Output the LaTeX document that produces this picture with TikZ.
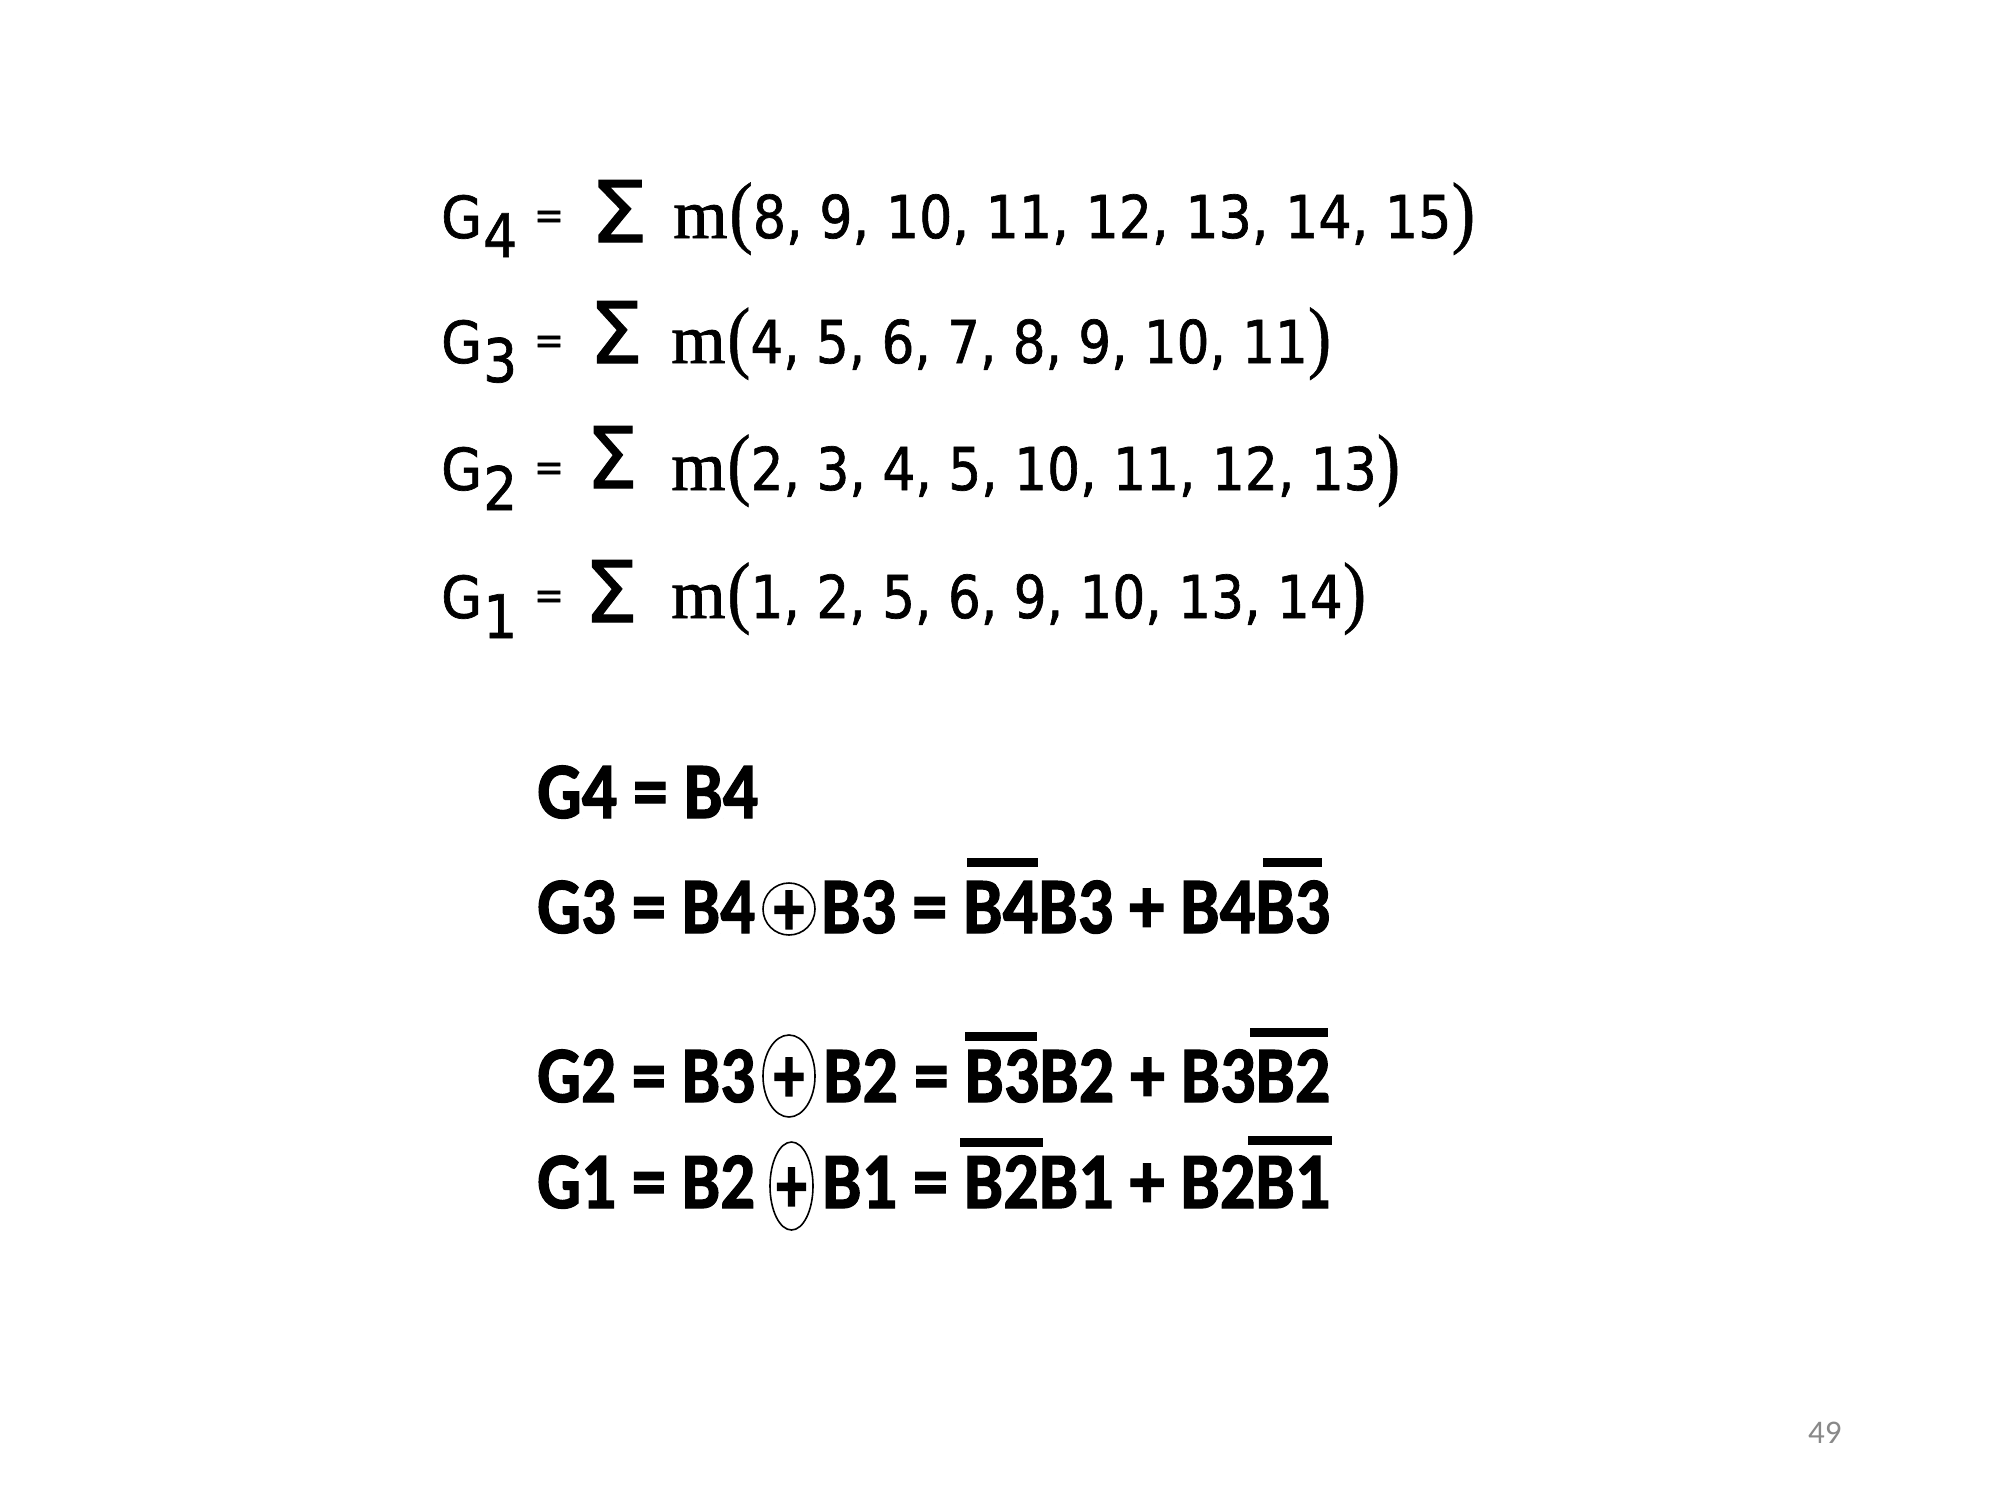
\documentclass[tikz,border=0pt]{standalone}
\usepackage{fontspec}
\usepackage{graphicx}
\usetikzlibrary{shapes.geometric}
\newfontfamily\tahf[FakeBold=1.2]{DejaVu Sans}
\newfontfamily\tmsf[FakeBold=1.2]{Liberation Serif}
\newfontfamily\parf[FakeBold=0.6]{Liberation Serif}
\newfontfamily\calf{Carlito}
\newfontfamily\calbf[FakeBold=1.6]{Carlito Bold}
\definecolor{pgray}{RGB}{137,137,137}
\newcommand\fitw[2]{\resizebox{#1}{\height}{#2}}
\begin{document}
\begin{tikzpicture}[x=1pt,y=-1pt,
  tg/.style={anchor=base west, inner sep=0pt, font={\tahf\fontsize{58}{60}\selectfont}},
  tsub/.style={anchor=base west, inner sep=0pt, font={\tahf\fontsize{60}{62}\selectfont}},
  teq/.style={anchor=base, inner sep=0pt, font={\tahf\fontsize{40}{42}\selectfont}},
  tsig/.style={anchor=base, inner sep=0pt, font={\tahf\fontsize{85}{88}\selectfont}},
  tmm/.style={anchor=base west, inner sep=0pt, font={\tmsf\fontsize{70}{72}\selectfont}},
  tm/.style={anchor=base west, inner sep=0pt, font={\tahf\fontsize{59}{60}\selectfont}},
  bot/.style={anchor=base west, inner sep=0pt, font={\calbf\fontsize{80}{84}\selectfont}},
  xo/.style={ellipse, draw, line width=1.6pt, inner sep=0pt},
  xplus/.style={inner sep=0pt, yshift=-4pt, font={\calbf\fontsize{80}{84}\selectfont}},
  obar/.style={line width=9pt},
  pnum/.style={anchor=base west, inner sep=0pt, text=pgray, font={\calf\fontsize{33}{36}\selectfont}}]
\fill[white] (0,0) rectangle (2000,1500);
\useasboundingbox (0,0) rectangle (2000,1500);
\newcommand\bp[1]{{\parf\fontsize{80}{82}\selectfont #1}}
% ---- top block ----
\node[tg] (g4) at (441,238) {\fitw{41pt}{G}};
\node[tsub] (g4s) at (483,257) {\fitw{34pt}{4}};
\node[teq] (e4) at (549,229) {\fitw{30pt}{=}};
\node[tsig] (s4) at (619,242) {\fitw{58pt}{Σ}};
\node[tmm] (mm4) at (673,238) {m};
\node[tm] (m4) at (729,238) {\fitw{746pt}{\bp(8, 9, 10, 11, 12, 13, 14, 15\bp)}};

\node[tg] (g3) at (441,363) {\fitw{41pt}{G}};
\node[tsub] (g3s) at (483,382) {\fitw{34pt}{3}};
\node[teq] (e3) at (549,354) {\fitw{30pt}{=}};
\node[tsig] (s3) at (616,363) {\fitw{54pt}{Σ}};
\node[tmm] (mm3) at (671,363) {m};
\node[tm] (m3) at (727,363) {\fitw{604pt}{\bp(4, 5, 6, 7, 8, 9, 10, 11\bp)}};

\node[tg] (g2) at (441,490) {\fitw{41pt}{G}};
\node[tsub] (g2s) at (483,510) {\fitw{34pt}{2}};
\node[teq] (e2) at (549,481) {\fitw{30pt}{=}};
\node[tsig] (s2) at (612,488) {\fitw{52pt}{Σ}};
\node[tmm] (mm2) at (671,490) {m};
\node[tm] (m2) at (727,490) {\fitw{673pt}{\bp(2, 3, 4, 5, 10, 11, 12, 13\bp)}};

\node[tg] (g1) at (441,618) {\fitw{41pt}{G}};
\node[tsub] (g1s) at (483,638) {\fitw{34pt}{1}};
\node[teq] (e1) at (549,609) {\fitw{30pt}{=}};
\node[tsig] (s1) at (611,622) {\fitw{54pt}{Σ}};
\node[tmm] (mm1) at (671,618) {m};
\node[tm] (m1) at (727,618) {\fitw{639pt}{\bp(1, 2, 5, 6, 9, 10, 13, 14\bp)}};

% ---- bottom block ----
\node[bot] (h4) at (537,818) {\fitw{221pt}{G4 = B4}};

\node[bot] (h3a) at (537,933) {\fitw{218pt}{G3 = B4}};
\node[xo, minimum width=52pt, minimum height=52pt] (x3) at (789,909) {};
\node[xplus] (p3) at (x3.center) {\scalebox{0.77}[1]{+}};
\node[bot] (h3b) at (821,933) {\fitw{509pt}{B3 = B4B3 + B4B3}};
\draw[obar] (967,862) -- (1038,862);
\draw[obar] (1263,862) -- (1322,862);

\node[bot] (h2a) at (537,1102) {\fitw{218pt}{G2 = B3}};
\node[xo, minimum width=52pt, minimum height=82pt] (x2) at (789,1076) {};
\node[xplus] (p2) at (x2.center) {\scalebox{0.77}[1]{+}};
\node[bot] (h2b) at (823,1102) {\fitw{507pt}{B2 = B3B2 + B3B2}};
\draw[obar] (965,1036) -- (1037,1036);
\draw[obar] (1250,1032) -- (1328,1032);

\node[bot] (h1a) at (537,1208) {\fitw{218pt}{G1 = B2}};
\node[xo, minimum width=43pt, minimum height=88pt] (x1) at (791.5,1186) {};
\node[xplus] (p1) at (x1.center) {\scalebox{0.77}[1]{+}};
\node[bot] (h1b) at (822,1208) {\fitw{508pt}{B1 = B2B1 + B2B1}};
\draw[obar] (960,1142.5) -- (1043,1142.5);
\draw[obar] (1248,1140) -- (1332,1140);

% ---- page number ----
\node[pnum] (pg) at (1808,1443) {49};
\end{tikzpicture}
\end{document}
